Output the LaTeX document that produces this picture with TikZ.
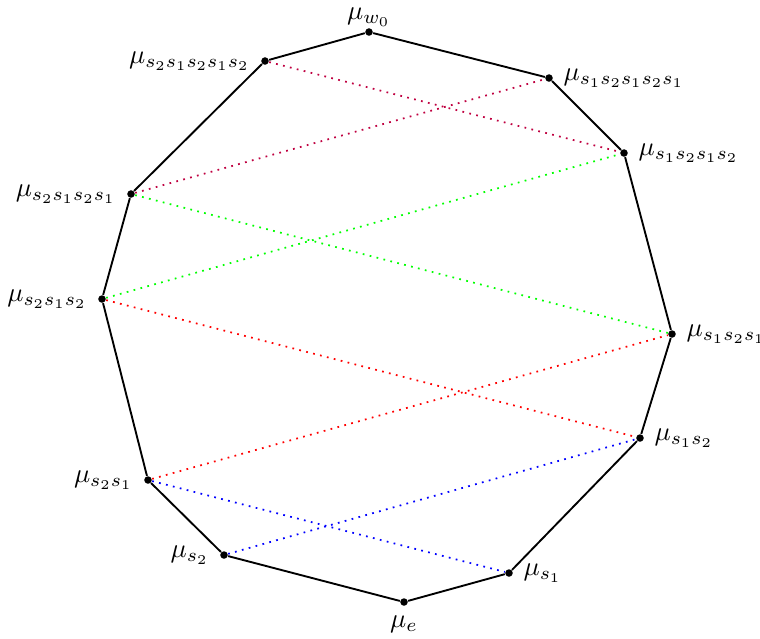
\documentclass[tikz,border=0pt]{standalone}
\usepackage{tikz}
\usetikzlibrary{positioning}

\begin{document}
\begin{tikzpicture}[x=0.372pt,y=-0.372pt,
  vertex/.style={circle,fill=black,inner sep=0pt,minimum size=2.8pt},
  lbl left/.style={label={[label distance=0.5pt]left:#1}},
  lbl right/.style={label={[label distance=0.3pt]right:#1}},
  edge/.style={line width=0.7pt},
  braid/.style={dotted,line width=0.65pt}]
\useasboundingbox (0,0) rectangle (760,638);

\node[vertex,label={[inner sep=0.5pt,label distance=-0.3pt]above:{$\mu_{w_0}$}}] (w0) at (369,32) {};
\node[vertex,lbl left={$\mu_{s_2s_1s_2s_1s_2}$}] (s2s1s2s1s2) at (265,61) {};
\node[vertex,lbl right={$\mu_{s_1s_2s_1s_2s_1}$}] (s1s2s1s2s1) at (549,78) {};
\node[vertex,lbl right={$\mu_{s_1s_2s_1s_2}$}] (s1s2s1s2) at (624,153) {};
\node[vertex,lbl left={$\mu_{s_2s_1s_2s_1}$}] (s2s1s2s1) at (131,194) {};
\node[vertex,lbl left={$\mu_{s_2s_1s_2}$}] (s2s1s2) at (102,299) {};
\node[vertex,lbl right={$\mu_{s_1s_2s_1}$}] (s1s2s1) at (672,334) {};
\node[vertex,lbl right={$\mu_{s_1s_2}$}] (s1s2) at (640,438) {};
\node[vertex,lbl left={$\mu_{s_2s_1}$}] (s2s1) at (148,480) {};
\node[vertex,lbl left={$\mu_{s_2}$}] (s2) at (224,555) {};
\node[vertex,lbl right={$\mu_{s_1}$}] (s1) at (509,573) {};
\node[vertex,label=below:{$\mu_e$}] (e) at (404,602) {};

% the polygon
\draw[edge] (e) -- (s1) -- (s1s2) -- (s1s2s1) -- (s1s2s1s2) -- (s1s2s1s2s1) -- (w0);
\draw[edge] (e) -- (s2) -- (s2s1) -- (s2s1s2) -- (s2s1s2s1) -- (s2s1s2s1s2) -- (w0);

% dotted pairs
\draw[braid,purple] (s2s1s2s1s2) -- (s1s2s1s2);
\draw[braid,purple] (s2s1s2s1) -- (s1s2s1s2s1);
\draw[braid,green] (s2s1s2s1) -- (s1s2s1);
\draw[braid,green] (s2s1s2) -- (s1s2s1s2);
\draw[braid,red] (s2s1s2) -- (s1s2);
\draw[braid,red] (s2s1) -- (s1s2s1);
\draw[braid,blue] (s2s1) -- (s1);
\draw[braid,blue] (s2) -- (s1s2);
\end{tikzpicture}
\end{document}
